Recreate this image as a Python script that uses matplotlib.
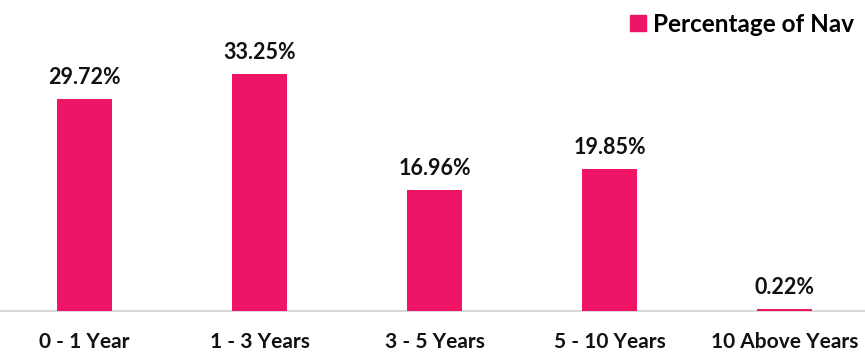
import matplotlib
matplotlib.use("Agg")
import matplotlib.pyplot as plt
from matplotlib.patches import Patch

# ── Data ────────────────────────────────────────────────────────────────────
categories = ["0 - 1 Year", "1 - 3 Years", "3 - 5 Years", "5 - 10 Years", "10 Above Years"]
nav_pct = [29.72, 33.25, 16.96, 19.85, 0.22]
series_name = "Percentage of Nav"

BAR_COLOR = "#EE1566"
plt.rcParams["font.family"] = ["Lato", "DejaVu Sans"]

fig = plt.figure(figsize=(8.65, 3.56), dpi=100)
ax = fig.add_axes([0.0, 45 / 356, 1.0, 311 / 356])

x = list(range(len(categories)))
bars = ax.bar(x, nav_pct, width=0.314, color=BAR_COLOR, zorder=3)

for rect, v in zip(bars, nav_pct):
    ax.annotate(f"{v:.2f}%", xy=(rect.get_x() + rect.get_width() / 2, rect.get_height()),
                xytext=(0, 8), textcoords="offset points", ha="center", va="bottom",
                fontsize=15.5, fontweight="bold", color="#111111")

ax.set_xlim(-0.483, 4.46)
ax.set_ylim(0, 43.6)
ax.set_xticks(x)
ax.set_xticklabels(categories, fontsize=15, fontweight="bold", color="#111111")
ax.tick_params(axis="x", length=0, pad=15)
ax.set_yticks([])
for s in ["top", "right", "left"]:
    ax.spines[s].set_visible(False)
ax.spines["bottom"].set_color("#d9d9d9")
ax.spines["bottom"].set_linewidth(1.5)
ax.spines["bottom"].set_zorder(1)

ax.legend(handles=[Patch(color=BAR_COLOR, label=series_name)], loc="upper right",
          bbox_to_anchor=(1.013, 1.03), frameon=False, handlelength=0.65, handleheight=0.65,
          handletextpad=0.3, prop={"size": 17.5, "weight": "bold"})

fig.savefig("out.png", dpi=100)
